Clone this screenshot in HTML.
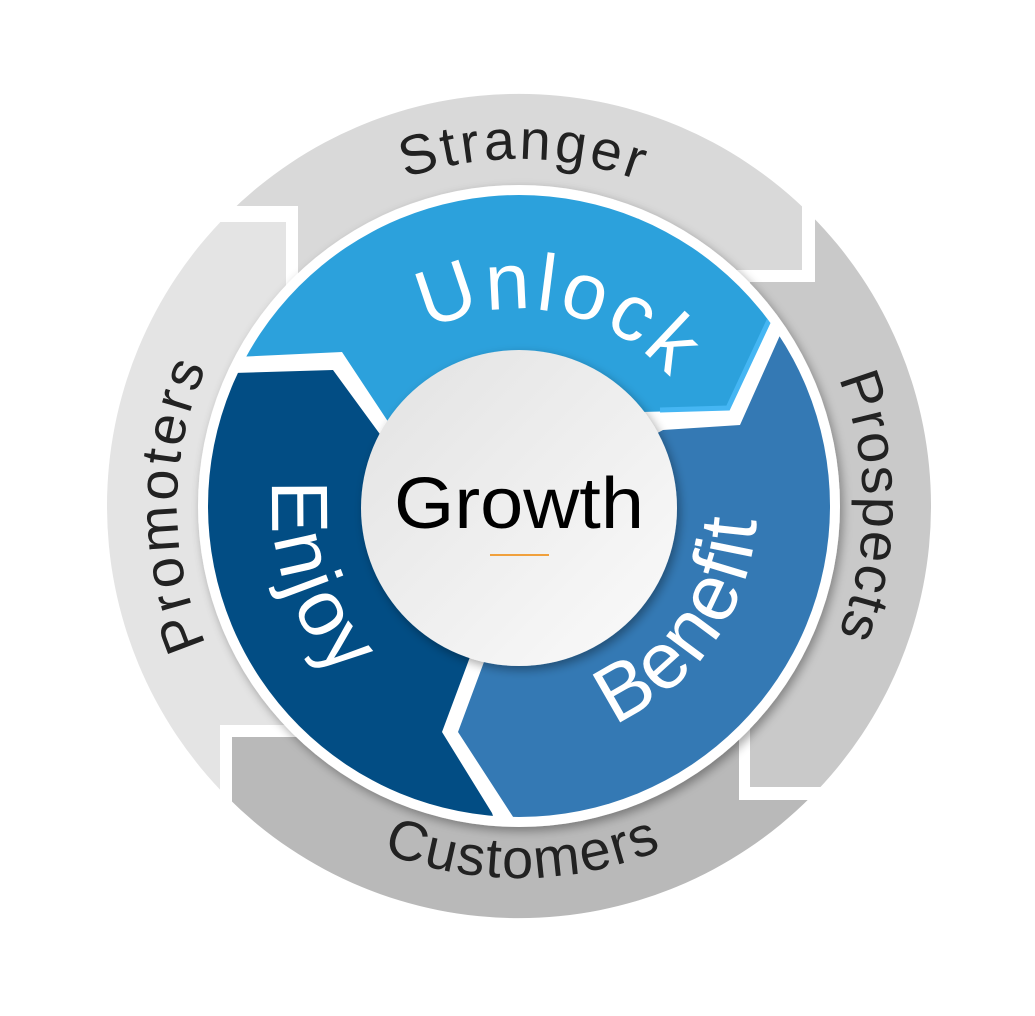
<!DOCTYPE html>
<html><head><meta charset="utf-8"><style>
html,body{margin:0;padding:0;background:#fff;}
svg{display:block;}
</style></head><body>
<svg width="1035" height="1016" viewBox="0 0 1035 1016" xmlns="http://www.w3.org/2000/svg">
<defs>
<clipPath id="ann"><path fill-rule="evenodd" d="M107,506a412,412 0 1,0 824,0a412,412 0 1,0 -824,0Z M198,506a321,321 0 1,0 642,0a321,321 0 1,0 -642,0Z"/></clipPath>
<clipPath id="disc"><circle cx="519" cy="506" r="311"/></clipPath>
<linearGradient id="cg" x1="0" y1="0" x2="1" y2="1"><stop offset="0" stop-color="#e2e2e2"/><stop offset="1" stop-color="#fbfbfb"/></linearGradient>
<filter id="sh" x="-20%" y="-20%" width="140%" height="140%"><feGaussianBlur in="SourceAlpha" stdDeviation="5"/><feOffset dx="3" dy="4"/><feComponentTransfer><feFuncA type="linear" slope="0.35"/></feComponentTransfer><feMerge><feMergeNode/><feMergeNode in="SourceGraphic"/></feMerge></filter>
<path id="pS" d="M172,503 A347,347 0 0,1 866,509"/>
<path id="pP" d="M519,162 A344,344 0 0,1 519,850"/>
<path id="pC" d="M147,509.2 A372,372 0 0,0 891,502.8"/>
<path id="pM" d="M519,848 A342,342 0 0,1 519,164"/>
<path id="pU" d="M322.7,467.8 A200,200 0 0,1 715.3,544.2"/>
<path id="pB" d="M382.5,701 A238,238 0 0,0 655.5,311"/>
<path id="pE" d="M438.3,271.5 A248,248 0 0,0 599.7,740.5"/>
</defs>

<g clip-path="url(#ann)">
  <polygon fill="#e4e4e4" points="0,222 286,222 286,340 400,340 400,725 220,725 220,1016 0,1016"/>
  <polygon fill="#d9d9d9" points="0,0 802,0 802,270 520,270 520,505 298,505 298,206 0,206"/>
  <polygon fill="#c9c9c9" points="815,0 1035,0 1035,787 750,787 750,282 815,282"/>
  <polygon fill="#b9b9b9" points="232,1016 232,737 400,737 400,600 739,600 739,800 1035,800 1035,1016"/>
</g>

<circle cx="519" cy="506" r="321" fill="#fff" filter="url(#sh)"/>

<g clip-path="url(#disc)">
  <polygon fill="#2ca1dc" points="0,0 1035,0 1035,240 804,242 728,410 640,412 520,505 420,470 342,352 0,368"/>
  <polyline fill="none" stroke="#45b6f3" stroke-width="5" points="772,314 728,408 660,410"/>
  <polygon fill="#3479b4" points="818,250 1035,250 1035,1016 567,900 458,732 507,600 520,508 663,430 740,425"/>
  <polygon fill="#024d84" points="0,380 333,370 428,500 520,508 491,600 467,665 442,732 492,813 560,1016 0,1016"/>
</g>

<circle cx="519" cy="508" r="158" fill="url(#cg)" filter="url(#sh)"/>
<text x="519" y="528" text-anchor="middle" font-family="Liberation Sans, sans-serif" font-size="72" fill="#000" textLength="250" lengthAdjust="spacingAndGlyphs">Growth</text>
<line x1="490" y1="555" x2="549" y2="555" stroke="#f0a03c" stroke-width="2"/>

<g font-family="Liberation Sans, sans-serif" fill="#fff" font-size="80">
  <text><textPath href="#pU" startOffset="50%" text-anchor="middle" textLength="265" lengthAdjust="spacing">Unlock</textPath></text>
  <text><textPath href="#pB" startOffset="50%" text-anchor="middle" textLength="262" lengthAdjust="spacing">Benefit</textPath></text>
  <text><textPath href="#pE" startOffset="50%" text-anchor="middle" textLength="215" lengthAdjust="spacing">Enjoy</textPath></text>
</g>
<g font-family="Liberation Sans, sans-serif" fill="#222" font-size="56">
  <text><textPath href="#pS" startOffset="50%" text-anchor="middle" textLength="238" lengthAdjust="spacing">Stranger</textPath></text>
  <text><textPath href="#pP" startOffset="50%" text-anchor="middle" textLength="262" lengthAdjust="spacing">Prospects</textPath></text>
  <text><textPath href="#pC" startOffset="50%" text-anchor="middle" textLength="286" lengthAdjust="spacing">Customers</textPath></text>
  <text><textPath href="#pM" startOffset="50%" text-anchor="middle" textLength="285" lengthAdjust="spacing">Promoters</textPath></text>
</g>
</svg>
</body></html>
